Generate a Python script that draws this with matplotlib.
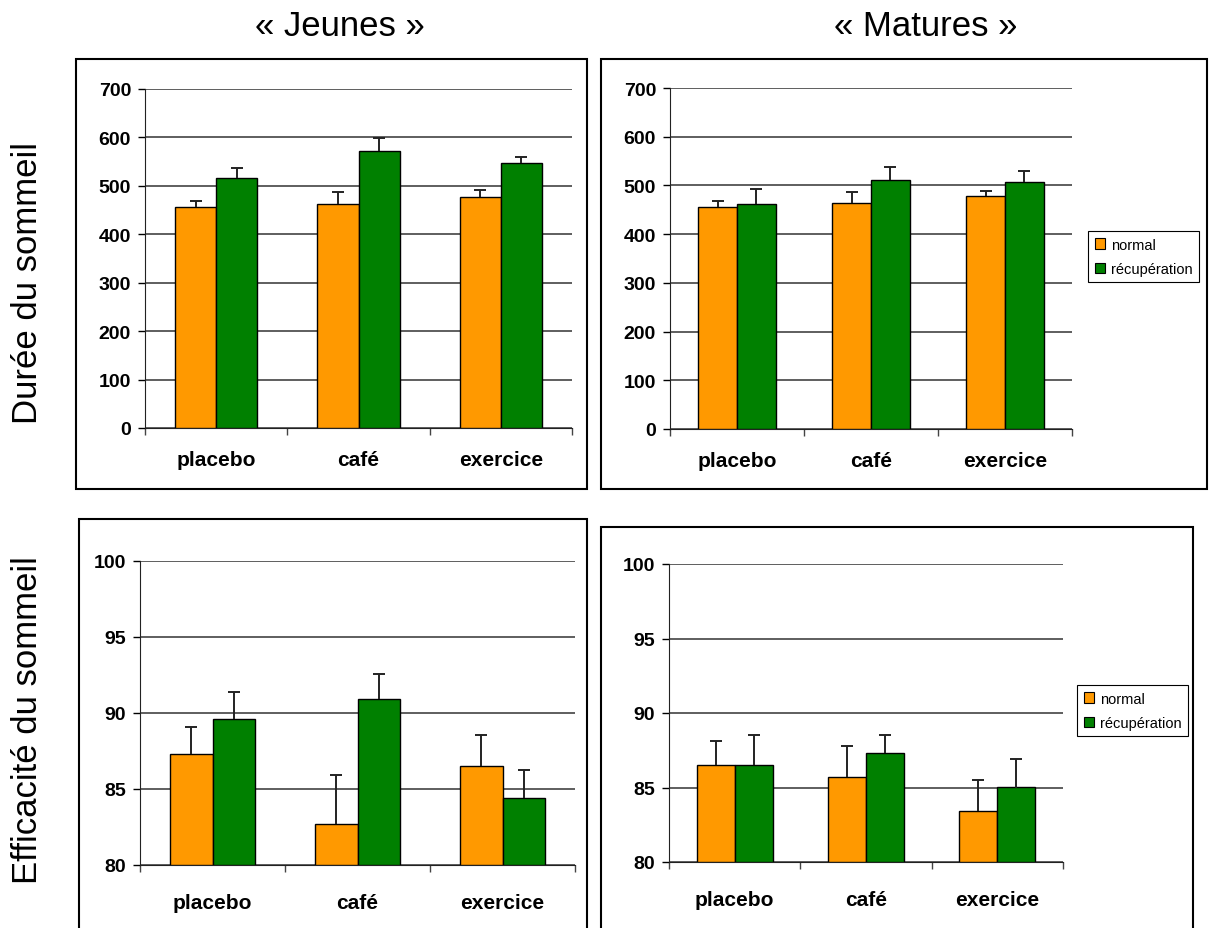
import numpy as np
import matplotlib
matplotlib.use("Agg")
import matplotlib.pyplot as plt
from matplotlib.patches import Rectangle, Patch

plt.rcParams['font.family'] = ['Liberation Sans', 'DejaVu Sans']

categories = ['placebo', 'café', 'exercice']
series_names = ['normal', 'récupération']
colors = ['#FF9900', '#008000']

# durée du sommeil
jeunes_duree_normal = [457, 462, 478]
jeunes_duree_normal_err = [12, 26, 13]
jeunes_duree_recup = [516, 571, 547]
jeunes_duree_recup_err = [21, 27, 13]
matures_duree_normal = [456, 463, 479]
matures_duree_normal_err = [12, 23, 10]
matures_duree_recup = [461, 512, 508]
matures_duree_recup_err = [31, 25, 21]

# efficacité du sommeil
jeunes_eff_normal = [87.3, 82.7, 86.5]
jeunes_eff_normal_err = [1.75, 3.2, 2.05]
jeunes_eff_recup = [89.6, 90.9, 84.4]
jeunes_eff_recup_err = [1.75, 1.65, 1.85]
matures_eff_normal = [86.5, 85.7, 83.4]
matures_eff_normal_err = [1.6, 2.1, 2.1]
matures_eff_recup = [86.5, 87.3, 85.0]
matures_eff_recup_err = [2.0, 1.25, 1.9]

W, H = 1212, 929
fig = plt.figure(figsize=(W / 100, H / 100), dpi=100)


def px_rect(x0, y0, x1, y1):
    # pixel box (top-left origin) -> figure fraction [left, bottom, width, height]
    return [x0 / W, 1 - y1 / H, (x1 - x0) / W, (y1 - y0) / H]


def box(x0, y0, x1, y1):
    l, b, w, h = px_rect(x0, y0, x1, y1)
    fig.patches.append(Rectangle((l, b), w, h, transform=fig.transFigure,
                                 fill=False, edgecolor='black', linewidth=1.5))


def panel(rect, normal, normal_err, recup, recup_err, ylim, step, xlab_pad):
    ax = fig.add_axes(px_rect(*rect))
    x = np.arange(len(categories))
    bw = 0.29
    for vals, errs, off, c in [(normal, normal_err, -bw / 2, colors[0]),
                               (recup, recup_err, bw / 2, colors[1])]:
        ax.bar(x + off, np.array(vals) - ylim[0], bw, bottom=ylim[0], color=c,
               edgecolor='black', linewidth=1.0, zorder=3)
        eb = ax.errorbar(x + off, vals, yerr=[np.zeros(len(errs)), errs], fmt='none',
                         ecolor='#222222', elinewidth=1.4, capsize=4, capthick=1.4,
                         zorder=4)
        # only the upper cap, like the original
        eb[1][0].set_visible(False)
    ax.set_xlim(-0.5, len(categories) - 0.5)
    ax.set_ylim(*ylim)
    ax.set_yticks(np.arange(ylim[0], ylim[1] + step / 2, step))
    ax.yaxis.grid(True, color='#333333', linewidth=1.1, zorder=0)
    ax.set_axisbelow(True)
    ax.set_xticks(x)
    ax.set_xticklabels(categories, fontsize=15, fontweight='bold')
    ax.set_xticks(np.arange(-0.5, len(categories)), minor=True)
    ax.tick_params(axis='x', which='major', length=0, pad=xlab_pad)
    ax.tick_params(axis='x', which='minor', length=5, width=1.0, color='#444444')
    ax.tick_params(axis='y', length=5, width=1.0, pad=5, labelsize=14)
    for lab in ax.get_yticklabels():
        lab.set_fontweight('bold')
    for s in ['top', 'right']:
        ax.spines[s].set_visible(False)
    ax.spines['left'].set_color('#222222')
    ax.spines['bottom'].set_color('#222222')
    ax.patch.set_alpha(0)
    return ax


# frames around each chart
box(76, 60, 587, 490)
box(601, 60, 1207, 490)
box(79, 520, 587, 960)
box(601, 528, 1193, 960)

panel((145, 90, 572, 429), jeunes_duree_normal, jeunes_duree_normal_err,
      jeunes_duree_recup, jeunes_duree_recup_err, (0, 700), 100, 16)
panel((670, 89, 1072, 430), matures_duree_normal, matures_duree_normal_err,
      matures_duree_recup, matures_duree_recup_err, (0, 700), 100, 16)
panel((140, 562, 575, 866), jeunes_eff_normal, jeunes_eff_normal_err,
      jeunes_eff_recup, jeunes_eff_recup_err, (80, 100), 5, 20)
panel((669, 565, 1063, 863), matures_eff_normal, matures_eff_normal_err,
      matures_eff_recup, matures_eff_recup_err, (80, 100), 5, 20)

handles = [Patch(facecolor=c, edgecolor='black', linewidth=0.8) for c in colors]
for lx, ly in [(1088, 232), (1077, 686)]:
    leg = fig.legend(handles, series_names, loc='upper left',
                     bbox_to_anchor=(lx / W, 1 - ly / H), fontsize=10.5,
                     handlelength=0.7, handleheight=0.7, handletextpad=0.4,
                     borderpad=0.45, labelspacing=0.7, borderaxespad=0,
                     fancybox=False, framealpha=1)
    leg.get_frame().set_edgecolor('black')
    leg.get_frame().set_linewidth(0.8)

fig.text(340 / W, 1 - 27 / H, '« Jeunes »', ha='center', va='center', fontsize=25)
fig.text(926 / W, 1 - 27 / H, '« Matures »', ha='center', va='center', fontsize=25)
fig.text(28 / W, 1 - 283 / H, 'Durée du sommeil', ha='center', va='center',
         rotation=90, fontsize=25)
fig.text(28 / W, 1 - 720 / H, 'Efficacité du sommeil', ha='center', va='center',
         rotation=90, fontsize=25)

fig.savefig('out.png', dpi=100)
